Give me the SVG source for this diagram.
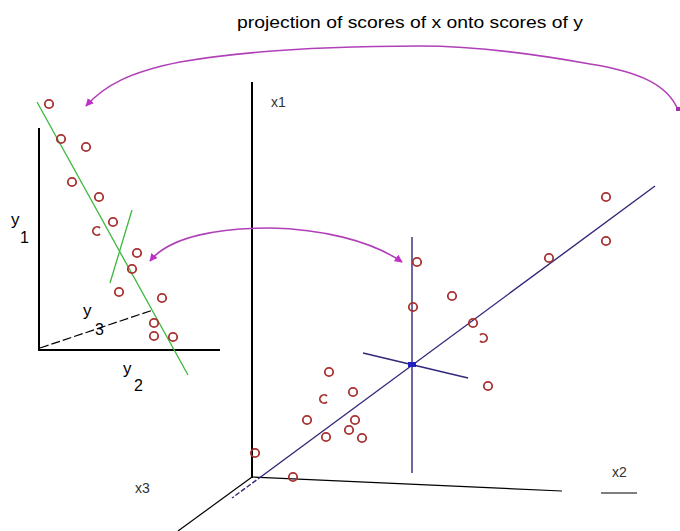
<svg xmlns="http://www.w3.org/2000/svg" width="680" height="531" viewBox="0 0 680 531">
<style>
.ax{stroke:#000;stroke-width:2;fill:none}
.thin{stroke:#000;stroke-width:1.2;fill:none}
.pt{fill:none;stroke:#a83030;stroke-width:1.8}
.grn{stroke:#3cb83c;stroke-width:1.3;fill:none}
.blu{stroke:#302878;stroke-width:1.4;fill:none}
.arc{stroke:#b040b8;stroke-width:1.6;fill:none}
.lbl{font-family:"Liberation Sans",Arial,sans-serif;fill:#000}
.sm{font-family:"Liberation Sans",Arial,sans-serif;fill:#333;font-size:14px}
</style>
<defs>
<marker id="ah" viewBox="0 0 10 10" refX="9" refY="5" markerWidth="5" markerHeight="5" orient="auto">
<path d="M0 0 L10 5 L0 10 Z" fill="#c030c8"/>
</marker>
<marker id="ahs" viewBox="0 0 10 10" refX="1" refY="5" markerWidth="5" markerHeight="5" orient="auto">
<path d="M10 0 L0 5 L10 10 Z" fill="#c030c8"/>
</marker>
</defs>
<rect width="680" height="531" fill="#fff"/>
<text class="lbl" x="237" y="28" font-size="17" textLength="346" lengthAdjust="spacingAndGlyphs">projection of scores of x onto scores of y</text>

<g id="left-plot">
<line class="ax" x1="39" y1="128" x2="39" y2="351"/>
<line class="ax" x1="38" y1="350" x2="220" y2="350"/>
<line class="thin" x1="40" y1="348" x2="153" y2="310" stroke-dasharray="9 3"/>
<line class="grn" x1="37" y1="102" x2="188" y2="375"/>
<line class="grn" x1="132" y1="210" x2="110" y2="283"/>
<text class="lbl" x="11" y="225" font-size="17">y</text>
<text class="lbl" x="20" y="243" font-size="16">1</text>
<text class="lbl" x="83" y="316" font-size="17">y</text>
<text class="lbl" x="95" y="335" font-size="16">3</text>
<text class="lbl" x="123" y="374" font-size="17">y</text>
<text class="lbl" x="134" y="391" font-size="16">2</text>
</g>

<g id="left-points">
<circle class="pt" cx="49" cy="104" r="4.2"/>
<circle class="pt" cx="61" cy="139" r="4.2"/>
<circle class="pt" cx="86" cy="147" r="4.2"/>
<circle class="pt" cx="72" cy="182" r="4.2"/>
<circle class="pt" cx="99" cy="197" r="4.2"/>
<circle class="pt" cx="113" cy="222" r="4.2"/>
<path class="pt" d="M100 228 A4.2 4.2 0 1 0 100 234"/>
<circle class="pt" cx="137" cy="253" r="4.2"/>
<circle class="pt" cx="132" cy="269" r="4.2"/>
<circle class="pt" cx="119" cy="292" r="4.2"/>
<circle class="pt" cx="162" cy="298" r="4.2"/>
<circle class="pt" cx="154" cy="323" r="4.2"/>
<circle class="pt" cx="154" cy="336" r="4.2"/>
<circle class="pt" cx="173" cy="337" r="4.2"/>
</g>

<g id="right-plot">
<line class="ax" x1="252" y1="82" x2="252" y2="478"/>
<line class="thin" x1="252" y1="477" x2="562" y2="491"/>
<line class="thin" x1="601" y1="493" x2="637" y2="493"/>
<line class="thin" x1="252" y1="477" x2="178" y2="531"/>
<text class="sm" x="271" y="107">x1</text>
<text class="sm" x="612" y="477">x2</text>
<text class="sm" x="135" y="493">x3</text>
<line class="blu" x1="655" y1="186" x2="262" y2="476"/>
<line class="blu" x1="262" y1="476" x2="232" y2="498" stroke-dasharray="5 2"/>
<line class="blu" x1="412" y1="237" x2="412" y2="473"/>
<line class="blu" x1="363" y1="353" x2="468" y2="378"/>
<rect x="408" y="362" width="8" height="5" fill="#2020c0"/>
</g>

<g id="right-points">
<circle class="pt" cx="606" cy="197" r="4.2"/>
<circle class="pt" cx="606" cy="241" r="4.2"/>
<circle class="pt" cx="549" cy="258" r="4.2"/>
<circle class="pt" cx="417" cy="262" r="4.2"/>
<circle class="pt" cx="452" cy="296" r="4.2"/>
<circle class="pt" cx="413" cy="307" r="4.2"/>
<circle class="pt" cx="473" cy="323" r="4.2"/>
<path class="pt" d="M480 335 A4.2 4.2 0 1 1 480 341"/>
<circle class="pt" cx="488" cy="386" r="4.2"/>
<circle class="pt" cx="329" cy="372" r="4.2"/>
<circle class="pt" cx="353" cy="392" r="4.2"/>
<path class="pt" d="M327 396 A4.2 4.2 0 1 0 327 402"/>
<circle class="pt" cx="307" cy="420" r="4.2"/>
<circle class="pt" cx="355" cy="420" r="4.2"/>
<circle class="pt" cx="349" cy="430" r="4.2"/>
<circle class="pt" cx="326" cy="437" r="4.2"/>
<circle class="pt" cx="362" cy="438" r="4.2"/>
<circle class="pt" cx="255" cy="453" r="4.2"/>
<circle class="pt" cx="293" cy="477" r="4.2"/>
</g>

<g id="connectors">
<path class="arc" d="M678 110 C668 85 640 72 590 64 C540 55 480 46 420 46 C330 46 250 50 180 62 C130 72 105 85 86 106" marker-end="url(#ah)"/>
<rect x="676" y="107" width="4" height="4" fill="#a030a8"/>
<path class="arc" d="M150 261 C170 236 220 228 270 228 C320 229 370 240 402 262" marker-start="url(#ahs)" marker-end="url(#ah)"/>
</g>
</svg>
